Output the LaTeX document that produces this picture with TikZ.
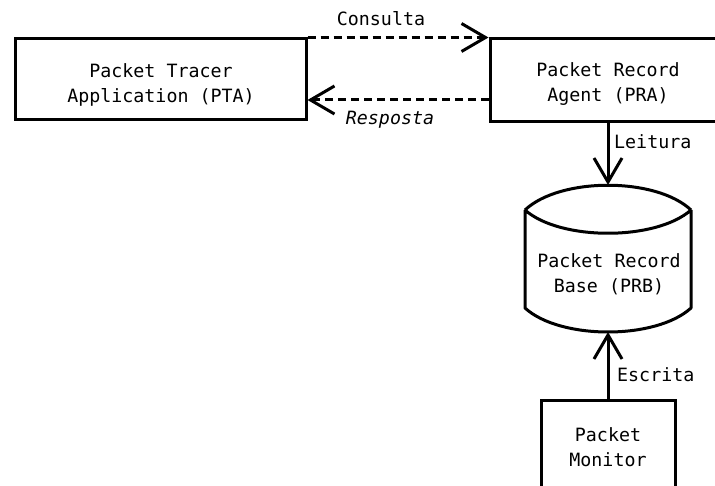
\documentclass[tikz,border=0pt]{standalone}
\usepackage{fontspec}
\setmonofont{DejaVu Sans Mono}
\usetikzlibrary{arrows.meta}
\begin{document}
\begin{tikzpicture}[x=1pt,y=-1pt,
  box/.style={draw, line width=3pt, inner sep=0pt},
  txt/.style={font=\fontsize{18.3}{25}\selectfont\ttfamily, align=center, inner sep=0pt},
  lbl/.style={font=\fontsize{18.3}{22}\selectfont\ttfamily, inner sep=0pt},
  flow/.style={line width=3pt, -{Straight Barb[length=24pt,width=28pt]}},
  query/.style={flow, dash pattern=on 8pt off 5pt}]
\clip (0,0) rectangle (715,486);

% components
\node[box, minimum width=291pt, minimum height=81pt] (pta) at (160.5,79.5) {};
\node[txt] (pta-text) at (161,84.5) {Packet Tracer\\Application (PTA)};

\node[box, minimum width=234pt, minimum height=83pt] (pra) at (607,80.5) {};
\node[txt] (pra-text) at (608,84) {Packet Record\\Agent (PRA)};

\node[box, minimum width=134pt, minimum height=88pt] (pm) at (608,444) {};
\node[txt] (pm-text) at (608,447) {Packet\\Monitor};

% database cylinder
\draw[line width=3pt, line join=round]
  (525,210) .. controls (560,177) and (656,177) .. (691,210)
  (525,210) .. controls (560,241) and (656,241) .. (691,210)
  (525,210) -- (525,308) .. controls (560,340) and (656,340) .. (691,308) -- (691,210);
\coordinate (prb-top) at (608,185);
\coordinate (prb-bottom) at (608,332);
\node[txt] (prb) at (609,274) {Packet Record\\Base (PRB)};

% connectors
\draw[query] (pta.north east) -- (pra.north west);
\node[lbl] (consulta) at (381,19) {Consulta};
\draw[query] (pra.west |- 0,100) -- (pta.east |- 0,100);
\node[lbl, font=\fontsize{18.3}{22}\selectfont\ttfamily\itshape] (resposta) at (390,120) {Resposta};

\draw[flow] (pra.south -| prb-top) -- (prb-top);
\node[lbl, anchor=west] (leitura) at (614,142) {Leitura};
\draw[flow] (pm.north) -- (prb-bottom);
\node[lbl, anchor=west] (escrita) at (617,375) {Escrita};
\end{tikzpicture}
\end{document}
